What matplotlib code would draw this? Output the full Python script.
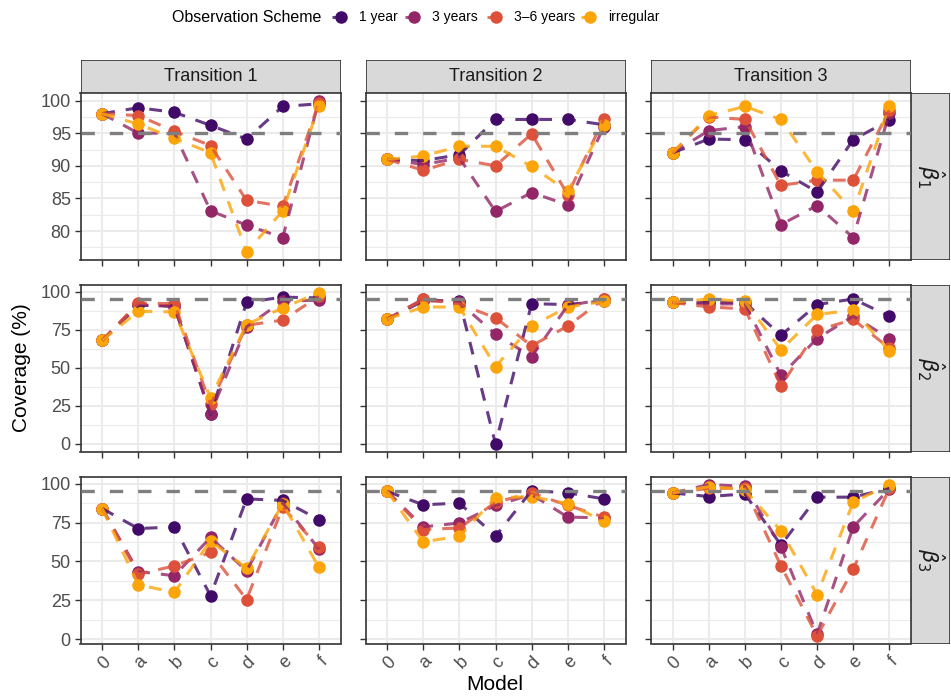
import numpy as np
import matplotlib.pyplot as plt
from matplotlib.lines import Line2D
from matplotlib.patches import Rectangle

plt.rcParams['font.family'] = ['Liberation Sans', 'DejaVu Sans']

models = ['0', 'a', 'b', 'c', 'd', 'e', 'f']
schemes = ['1 year', '3 years', '3–6 years', 'irregular']
transitions = ['Transition 1', 'Transition 2', 'Transition 3']
params = [r'$\hat{\beta}_1$', r'$\hat{\beta}_2$', r'$\hat{\beta}_3$']
nominal = 95

# coverage (%) per panel, rows = schemes in the order above
b1_t1 = [[98, 98.9, 98.2, 96.2, 94.1, 99.1, 99.5],
         [98, 95.0, 95.0, 83.1, 80.9, 79.0, 100],
         [98, 97.7, 95.3, 93.1, 84.7, 83.8, 99.6],
         [98, 96.4, 94.2, 92.0, 76.8, 83.1, 99.1]]
b1_t2 = [[91, 90.8, 91.7, 97.1, 97.1, 97.1, 96.3],
         [91, 90.2, 91.2, 83.0, 85.9, 84.0, 96.0],
         [91, 89.3, 91.0, 90.0, 94.9, 85.6, 97.2],
         [91, 91.5, 93.0, 93.0, 89.9, 86.1, 96.3]]
b1_t3 = [[92, 94.1, 94.0, 89.2, 86.0, 94.0, 97.0],
         [92, 95.4, 96.0, 81.0, 83.9, 79.0, 98.1],
         [92, 97.5, 97.1, 87.0, 87.8, 87.8, 98.5],
         [92, 97.7, 99.1, 97.1, 89.1, 83.0, 99.2]]
b2_t1 = [[68, 91, 91, 19.5, 93.1, 96.5, 96],
         [68, 92, 90, 20, 77, 94, 94.4],
         [68, 92.6, 92.2, 26, 78, 81.4, 97],
         [68, 87.2, 86.8, 30.3, 78.5, 89.4, 99.5]]
b2_t2 = [[82, 94, 94.2, 0, 92.2, 91.6, 94],
         [82, 95.3, 93, 72.1, 57.4, 91, 95],
         [82, 95, 92, 82.9, 64.5, 77.5, 95.3],
         [82, 90, 90, 50.9, 77.5, 90, 93.7]]
b2_t3 = [[93, 93, 93, 71.4, 91.6, 95.3, 84.0],
         [93, 92, 92, 45.0, 69.3, 84, 69.3],
         [93, 90, 88.8, 38.1, 74.7, 81.8, 63],
         [93, 95.3, 93.7, 61.9, 85.1, 87.9, 61.2]]
b3_t1 = [[84, 71.1, 72.2, 28.0, 90.2, 89.2, 76.9],
         [84, 43.5, 40.8, 65.4, 43.9, 87.5, 58],
         [84, 41.8, 47.1, 55.8, 25.5, 84.9, 59.0],
         [84, 35.0, 30.1, 63.1, 45.6, 87.1, 46.3]]
b3_t2 = [[95, 86.4, 87.5, 66.2, 95.5, 94.1, 90.2],
         [95, 72.2, 74.7, 86.0, 93, 78.5, 78],
         [95, 70.5, 71.5, 88, 94, 86, 78.5],
         [95, 62.6, 66.2, 90.9, 91.7, 87.1, 75.8]]
b3_t3 = [[94, 91.7, 93.4, 60.5, 91.3, 91.3, 97],
         [94, 99.4, 98.3, 59.4, 3.2, 72.2, 96.6],
         [94, 97, 97, 47.1, 2.1, 45.0, 97],
         [94, 98.1, 96, 69.6, 28.7, 88.1, 99.4]]

grid_data = [[b1_t1, b1_t2, b1_t3],
             [b2_t1, b2_t2, b2_t3],
             [b3_t1, b3_t2, b3_t3]]
row_ticks = [[80, 85, 90, 95, 100],
             [0, 25, 50, 75, 100],
             [0, 25, 50, 75, 100]]

colors = plt.cm.inferno([0.2, 0.4, 0.6, 0.8])

W, H = 951, 699
fig = plt.figure(figsize=(W / 100, H / 100), dpi=100)


def box(x, y, w, h):
    # pixel box (top-left origin) -> figure fraction rect
    return [x / W, 1 - (y + h) / H, w / W, h / H]


col_left = [80.5, 365.5, 651]
row_top = [93, 285, 477]
pw, ph = 260, 166.5
tick_col = '#4D4D4D'
border = '#333333'
line_kw = dict(lw=2.2, alpha=0.8, ls=(0, (4.2, 3.6)))

xs = np.arange(len(models))
for r in range(3):
    vals = np.array(grid_data[r], dtype=float)
    lo, hi = vals.min(), vals.max()
    pad = 0.05 * (hi - lo)
    ticks = row_ticks[r]
    minor = [(a + b) / 2 for a, b in zip(ticks[:-1], ticks[1:])]
    step = ticks[1] - ticks[0]
    minor = [ticks[0] - step / 2] + minor + [ticks[-1] + step / 2]
    for c in range(3):
        ax = fig.add_axes(box(col_left[c], row_top[r], pw, ph))
        ax.set_xlim(-0.6, len(models) - 0.4)
        ax.set_ylim(lo - pad, hi + pad)
        for m in minor:
            ax.axhline(m, color='#EBEBEB', lw=0.8, zorder=0)
        for t in ticks:
            ax.axhline(t, color='#EBEBEB', lw=1.5, zorder=0)
        for x in xs:
            ax.axvline(x, color='#EBEBEB', lw=1.5, zorder=0)
        panel = grid_data[r][c]
        for s in range(len(schemes)):
            ax.plot(xs, panel[s], 'o', ms=8, color=colors[s], zorder=2)
        for s in range(len(schemes)):
            ax.plot(xs, panel[s], color=colors[s], zorder=3, **line_kw)
        ax.axhline(nominal, color='#7F7F7F', lw=2.4, ls=(0, (4, 4.5)), zorder=4)

        for sp in ax.spines.values():
            sp.set_color(border)
            sp.set_linewidth(1.2)
        ax.set_yticks(ticks)
        ax.set_xticks(xs)
        ax.tick_params(length=4, width=1, color=border, labelcolor=tick_col,
                       labelsize=13, pad=3)
        if c == 0:
            ax.set_yticklabels([str(t) for t in ticks])
        else:
            ax.set_yticklabels([])
        if r == 2:
            ax.set_xticklabels(models, rotation=45, ha='right',
                               rotation_mode='anchor')
        else:
            ax.set_xticklabels([])

        # column strips
        if r == 0:
            sax = fig.add_axes(box(col_left[c], 60, pw, 33))
            sax.add_patch(Rectangle((0, 0), 1, 1, facecolor='#D9D9D9',
                                    edgecolor=border, lw=1.2,
                                    transform=sax.transAxes))
            sax.text(0.5, 0.5, transitions[c], ha='center', va='center',
                     fontsize=13, color='#1A1A1A')
            sax.set_axis_off()
    # row strips
    rax = fig.add_axes(box(911, row_top[r], 39, ph))
    rax.add_patch(Rectangle((0, 0), 1, 1, facecolor='#D9D9D9',
                            edgecolor=border, lw=1.2,
                            transform=rax.transAxes))
    rax.text(0.5, 0.5, params[r], ha='center', va='center', rotation=-90,
             fontsize=15, color='#1A1A1A')
    rax.set_axis_off()

fig.text(22 / W, 1 - 368 / H, 'Coverage (%)', rotation=90, ha='center',
         va='center', fontsize=15)
fig.text(495 / W, 1 - 685 / H, 'Model', ha='center', va='center', fontsize=15)

# legend across the top
ly = 1 - 17 / H
fig.text(172 / W, ly, 'Observation Scheme', ha='left', va='center',
         fontsize=11.5)
key_x = [341, 414, 496, 590]
for s, name in enumerate(schemes):
    kx = key_x[s]
    fig.add_artist(Line2D([(kx - 9) / W, (kx + 8) / W], [ly, ly],
                          color=colors[s], transform=fig.transFigure,
                          **line_kw))
    fig.add_artist(Line2D([kx / W], [ly], marker='o', ms=8, color=colors[s],
                          transform=fig.transFigure))
    fig.text((kx + 18) / W, ly, name, ha='left', va='center', fontsize=10)

fig.savefig('out.png', dpi=100)
